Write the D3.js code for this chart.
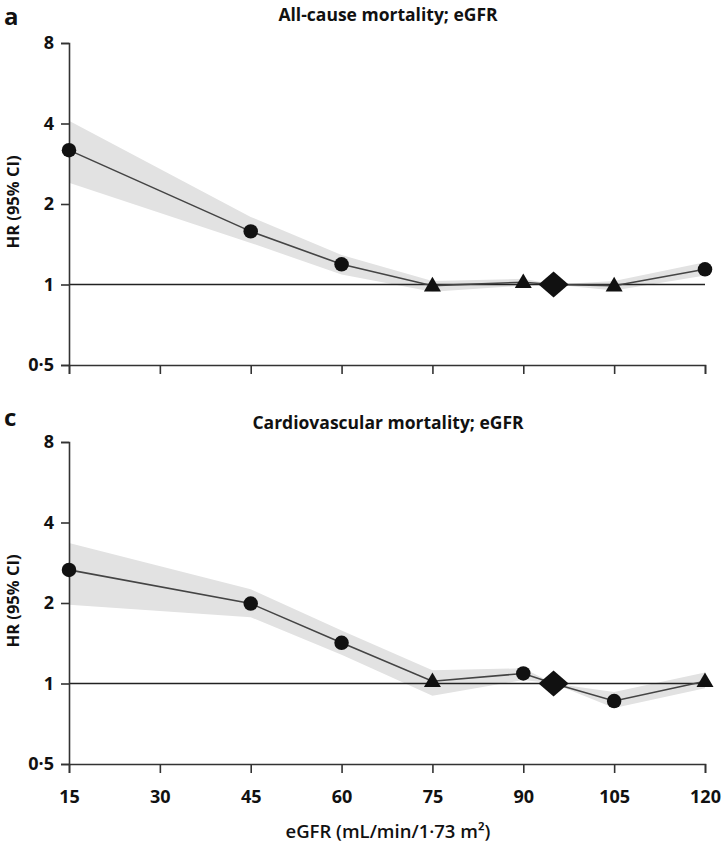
<!DOCTYPE html>
<html><head><meta charset="utf-8">
<script src="https://cdn.jsdelivr.net/npm/d3@7"></script>
<style>
html,body{margin:0;padding:0;background:#fff;}
svg text{font-family:"Open Sans","DejaVu Sans",sans-serif;fill:#111;}
</style></head>
<body><svg id="c" width="722" height="845"></svg>
<script>
// ---- data ----
const eGFR = [15, 45, 60, 75, 90, 95, 105, 120];
const xTicks = [15, 30, 45, 60, 75, 90, 105, 120];
const yTicks = [0.5, 1, 2, 4, 8];
const yTickLabels = ["0·5", "1", "2", "4", "8"];

const titleA = "All-cause mortality; eGFR";
const markerA = ["circle","circle","circle","triangle","triangle","diamond","triangle","circle"];
const hrA = [3.18, 1.58, 1.19, 0.99, 1.02, 1.00, 0.99, 1.14];
const loA = [2.40, 1.43, 1.09, 0.94, 0.99, 1.00, 0.95, 1.08];
const hiA = [4.10, 1.79, 1.29, 1.03, 1.05, 1.00, 1.03, 1.21];

const titleC = "Cardiovascular mortality; eGFR";
const markerC = ["circle","circle","circle","triangle","circle","diamond","circle","triangle"];
const hrC = [2.66, 1.99, 1.42, 1.02, 1.09, 1.00, 0.86, 1.02];
const loC = [1.97, 1.77, 1.28, 0.90, 1.03, 1.00, 0.81, 0.96];
const hiC = [3.35, 2.25, 1.58, 1.12, 1.14, 1.00, 0.93, 1.10];

const xTitle = "eGFR (mL/min/1·73 m²)";
const yTitle = "HR (95% CI)";

// ---- drawing ----
const svg = d3.select("#c");
const x = d3.scaleLinear().domain([15, 120]).range([69, 705]);

function panel(letter, title, hr, lo, hi, markers, top, bottom, showXLabels, letterY, titleY) {
  const y = d3.scaleLog().base(2).domain([0.5, 8]).range([bottom, top]);
  const g = svg.append("g");
  const pts = eGFR.map((e, i) => ({x: e, hr: hr[i], lo: lo[i], hi: hi[i], m: markers[i]}));

  // CI band
  g.append("path")
    .attr("d", d3.area().x(d => x(d.x)).y0(d => y(d.lo)).y1(d => y(d.hi))(pts))
    .attr("fill", "#e2e2e2");

  // reference line at HR = 1
  g.append("line")
    .attr("x1", x(15)).attr("x2", x(120))
    .attr("y1", y(1)).attr("y2", y(1))
    .attr("stroke", "#222").attr("stroke-width", 1.6);

  // axes
  const ya = g.append("g").attr("transform", `translate(${x(15)},0)`)
    .call(d3.axisLeft(y).tickValues(yTicks).tickFormat((d, i) => yTickLabels[i]).tickSize(8).tickPadding(7));
  const xa = g.append("g").attr("transform", `translate(0,${bottom})`)
    .call(d3.axisBottom(x).tickValues(xTicks).tickSize(9).tickPadding(17)
      .tickFormat(showXLabels ? d3.format("d") : () => ""));
  [ya, xa].forEach(a => {
    a.select(".domain").attr("stroke", "#333").attr("stroke-width", 1.6);
    a.selectAll(".tick line").attr("stroke", "#333").attr("stroke-width", 1.6);
    a.selectAll("text").attr("font-size", 18).attr("font-weight", 700)
      .style("font-family", '"Open Sans",sans-serif').attr("fill", "#111");
  });

  // data line
  g.append("path")
    .attr("d", d3.line().x(d => x(d.x)).y(d => y(d.hr))(pts))
    .attr("fill", "none").attr("stroke", "#444").attr("stroke-width", 1.6);

  // markers
  const sym = {
    circle: d3.symbol().type(d3.symbolCircle).size(165),
    triangle: d3.symbol().type(d3.symbolTriangle).size(125),
  };
  pts.forEach(d => {
    if (d.m === "diamond") {
      const cx = x(d.x), cy = y(d.hr);
      g.append("path")
        .attr("d", `M${cx},${cy-13}L${cx+15},${cy}L${cx},${cy+13}L${cx-15},${cy}Z`)
        .attr("fill", "#111");
    } else {
      g.append("path").attr("d", sym[d.m]())
        .attr("transform", `translate(${x(d.x)},${y(d.hr) + (d.m === "triangle" ? 1 : 0)})`)
        .attr("fill", "#111");
    }
  });

  // titles
  g.append("text").attr("x", 4).attr("y", letterY).text(letter)
    .attr("font-size", 24).attr("font-weight", 700);
  g.append("text").attr("x", 388).attr("y", titleY).attr("text-anchor", "middle")
    .text(title).attr("font-size", 17.5).attr("font-weight", 700);
  g.append("text")
    .attr("transform", `translate(19,${y(2) - 2}) rotate(-90)`)
    .attr("text-anchor", "middle").text(yTitle)
    .attr("font-size", 16.5).attr("font-weight", 700);
}

panel("a", titleA, hrA, loA, hiA, markerA, 43, 365, false, 25, 21);
panel("c", titleC, hrC, loC, hiC, markerC, 442, 764, true, 426, 429);

svg.append("text").attr("x", 388).attr("y", 838).attr("text-anchor", "middle")
  .text(xTitle).attr("font-size", 18.5).attr("font-weight", 600);
</script></body></html>
